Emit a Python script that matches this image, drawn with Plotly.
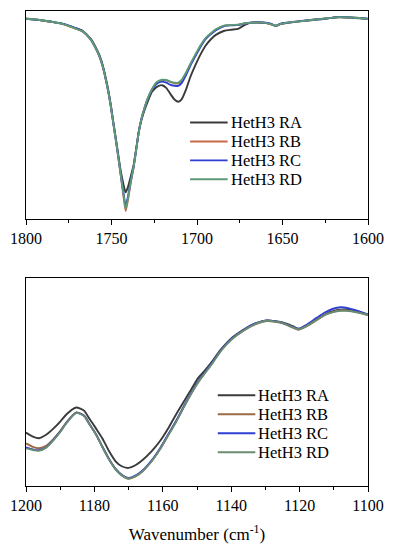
import plotly.graph_objects as go

# ---------------- data: top panel (1800-1600 cm-1) ----------------
wn_top = [1800, 1796, 1792, 1785, 1778, 1772, 1767, 1762, 1759.5, 1757,
          1755, 1753.3, 1751.8, 1750.4, 1749, 1747.5, 1746, 1744.6, 1743, 1741.7,
          1740.3, 1738.7, 1737, 1735.5, 1734, 1732.5, 1731, 1729, 1726.3, 1723.5,
          1720.5, 1718, 1715.5, 1713, 1711, 1709, 1706.5, 1704, 1701, 1698,
          1695, 1692, 1689, 1684, 1680, 1676, 1672, 1669, 1665, 1661,
          1657, 1654, 1651, 1647, 1640, 1632, 1625, 1617, 1610, 1605, 1600]
ra_top = [96.3, 96.0, 95.7, 94.8, 93.7, 92.0, 90.5, 86.5, 83.0, 78.6,
          73.5, 67.5, 61.5, 54.8, 47.0, 38.9, 30.5, 23.0, 16.5, 12.7,
          15.5, 20.5, 26.2, 34.0, 42.0, 47.5, 51.6, 56.0, 61.1, 63.5,
          64.3, 63.0, 60.0, 57.3, 56.3, 57.5, 62.0, 68.0, 73.8, 79.0,
          83.3, 86.3, 88.5, 90.5, 91.0, 91.4, 93.3, 94.3, 94.5, 94.3,
          93.8, 92.9, 93.8, 94.3, 95.0, 95.7, 96.3, 97.1, 96.8, 96.5, 96.2]
rb_top = [96.4, 96.1, 95.6, 94.7, 93.6, 91.8, 90.2, 86.0, 82.4, 78.0,
          72.8, 66.8, 60.8, 54.0, 46.2, 38.0, 29.5, 21.0, 11.0, 3.7,
          9.5, 17.5, 25.0, 33.5, 42.0, 48.0, 52.5, 57.5, 62.3, 65.5,
          66.7, 66.6, 65.8, 65.2, 65.1, 66.3, 69.8, 74.0, 78.6, 83.0,
          86.7, 89.0, 91.0, 92.9, 93.2, 93.3, 94.0, 94.3, 94.5, 94.4,
          93.6, 92.8, 93.7, 94.4, 95.0, 95.8, 96.4, 97.0, 96.9, 96.6, 96.2]
rc_top = [96.2, 95.9, 95.6, 94.8, 93.8, 92.1, 90.4, 86.2, 82.6, 78.2,
          73.0, 67.0, 61.0, 54.2, 46.4, 38.2, 29.8, 21.5, 12.5, 6.3,
          11.0, 18.5, 25.5, 33.8, 42.2, 48.0, 52.3, 57.2, 62.0, 65.0,
          66.0, 65.5, 64.5, 64.0, 64.0, 65.3, 69.0, 73.5, 78.2, 82.7,
          86.5, 88.8, 90.8, 92.8, 93.1, 93.3, 94.0, 94.4, 94.6, 94.5,
          93.9, 92.8, 93.9, 94.4, 95.1, 95.8, 96.3, 97.1, 96.9, 96.6, 96.3]
rd_top = [96.3, 96.0, 95.7, 94.8, 93.7, 91.9, 90.3, 86.1, 82.5, 78.1,
          72.9, 66.9, 60.9, 54.1, 46.3, 38.1, 29.6, 21.2, 11.8, 4.8,
          10.2, 18.0, 25.3, 33.6, 42.1, 48.1, 52.6, 57.6, 62.5, 65.8,
          66.9, 66.8, 66.0, 65.5, 65.5, 66.8, 70.3, 74.4, 79.0, 83.4,
          87.0, 89.2, 91.2, 93.0, 93.3, 93.4, 94.1, 94.3, 94.5, 94.4,
          93.7, 92.9, 93.8, 94.4, 95.0, 95.8, 96.4, 97.0, 96.9, 96.6, 96.2]

# ---------------- data: bottom panel (1200-1100 cm-1) ----------------
wn_bot = [1200, 1198, 1196.2, 1194, 1192, 1190, 1188, 1185.3, 1183, 1181.5,
          1179.5, 1177.7, 1175.7, 1173.8, 1172, 1170, 1168, 1166, 1163.3, 1160.7,
          1158.4, 1156, 1153.6, 1151.6, 1149.7, 1148, 1146, 1143, 1140, 1136.2,
          1133, 1129.5, 1127, 1124.7, 1122, 1120.3, 1118, 1115, 1112.5, 1110.2,
          1108, 1106.4, 1103, 1100]
ra_bot = [25.7, 23.8, 23.0, 24.8, 27.6, 31.0, 34.8, 37.8, 36.2, 32.5,
          27.6, 23.0, 16.7, 11.9, 9.5, 8.7, 10.0, 12.4, 16.7, 21.9,
          27.8, 34.8, 41.3, 46.7, 51.9, 55.0, 59.0, 65.7, 71.0, 75.4,
          78.1, 79.7, 79.3, 78.6, 76.9, 75.7, 77.1, 80.1, 82.6, 84.1,
          84.8, 84.9, 84.0, 82.5]
rb_bot = [20.5, 18.8, 18.2, 19.5, 22.6, 26.4, 31.0, 35.4, 33.8, 30.0,
          24.8, 19.0, 12.9, 8.1, 5.2, 3.5, 4.6, 7.0, 11.9, 18.1,
          24.6, 31.4, 38.9, 44.8, 50.0, 53.8, 58.1, 65.2, 70.5, 75.0,
          77.8, 79.4, 79.0, 78.1, 76.2, 75.2, 76.8, 79.8, 82.4, 83.8,
          84.5, 84.5, 83.6, 82.2]
rc_bot = [18.6, 17.6, 17.2, 18.8, 22.2, 26.2, 30.8, 35.3, 33.8, 30.0,
          24.8, 19.0, 12.9, 8.2, 5.4, 3.9, 5.0, 7.3, 12.2, 18.4,
          24.9, 31.6, 39.1, 45.0, 50.2, 54.0, 58.3, 65.4, 70.7, 75.3,
          78.2, 79.7, 79.2, 78.3, 76.6, 75.6, 77.5, 80.9, 83.6, 85.3,
          86.0, 85.8, 84.2, 82.4]
rd_bot = [18.1, 17.3, 17.0, 18.6, 22.0, 26.0, 30.6, 35.2, 33.6, 29.8,
          24.6, 18.8, 12.7, 8.0, 5.1, 3.6, 4.7, 7.0, 11.8, 18.0,
          24.4, 31.2, 38.7, 44.6, 49.8, 53.6, 57.9, 65.0, 70.4, 75.0,
          77.9, 79.5, 79.1, 78.3, 76.4, 75.4, 77.0, 80.0, 82.4, 83.7,
          84.3, 84.3, 83.5, 82.3]

names = ["HetH3 RA", "HetH3 RB", "HetH3 RC", "HetH3 RD"]
colors_top = ["#3a3a3a", "#c8694a", "#2f3fd0", "#5c9a78"]
colors_bot = ["#3a3a3a", "#9c6a44", "#2f3fd0", "#6a8c72"]

FONT = "Times New Roman, Liberation Serif, DejaVu Serif, serif"

fig = go.Figure()
for name, ys, c in zip(names, [ra_top, rb_top, rc_top, rd_top], colors_top):
    fig.add_trace(go.Scatter(x=wn_top, y=ys, mode="lines", name=name, showlegend=False,
                             line=dict(color=c, width=1.9, shape="spline", smoothing=0.6),
                             xaxis="x", yaxis="y"))
for name, ys, c in zip(names, [ra_bot, rb_bot, rc_bot, rd_bot], colors_bot):
    fig.add_trace(go.Scatter(x=wn_bot, y=ys, mode="lines", name=name, showlegend=False,
                             line=dict(color=c, width=1.9, shape="spline", smoothing=0.6),
                             xaxis="x2", yaxis="y2"))

# ---- legends drawn as line samples + labels (paper coordinates) ----
def add_legend(x0, x1, y_first, step, colors):
    for i, (name, c) in enumerate(zip(names, colors)):
        yy = y_first - i * step
        fig.add_shape(type="line", xref="paper", yref="paper",
                      x0=x0, x1=x1, y0=yy, y1=yy, line=dict(color=c, width=1.9))
        fig.add_annotation(xref="paper", yref="paper", x=x1 + 0.003, y=yy,
                           text=name, showarrow=False, xanchor="left", yanchor="middle",
                           font=dict(family=FONT, size=16.5, color="black"))

add_legend(0.4798, 0.5896, 0.7652, 0.0398, colors_top)
add_legend(0.5607, 0.6705, 0.1910, 0.0400, colors_bot)

axis_common = dict(showline=True, linecolor="black", linewidth=1.3, mirror=True,
                   showgrid=False, zeroline=False)

fig.update_layout(
    width=394, height=550,
    margin=dict(l=26, r=22, t=10, b=60),
    paper_bgcolor="white", plot_bgcolor="white",
    font=dict(family=FONT, size=16, color="black"),
    xaxis=dict(domain=[0, 1], anchor="y", range=[1800, 1600],
               tickmode="linear", tick0=1600, dtick=50,
               ticks="outside", ticklen=5, tickwidth=1.2, tickcolor="black",
               minor=dict(ticks="outside", ticklen=3, tickwidth=1.2, tickcolor="black", dtick=25),
               tickfont=dict(size=16, family=FONT), **axis_common),
    yaxis=dict(domain=[0.5625, 1], anchor="x", range=[0, 100],
               showticklabels=False, ticks="", **axis_common),
    xaxis2=dict(domain=[0, 1], anchor="y2", range=[1200, 1100],
                tickmode="linear", tick0=1100, dtick=20,
                ticks="outside", ticklen=5, tickwidth=1.2, tickcolor="black",
                minor=dict(ticks="outside", ticklen=3, tickwidth=1.2, tickcolor="black", dtick=10),
                tickfont=dict(size=16, family=FONT),
                title=dict(text="Wavenumber (cm<sup>-1</sup>)", font=dict(size=17, family=FONT),
                           standoff=14),
                **axis_common),
    yaxis2=dict(domain=[0, 0.4375], anchor="x2", range=[0, 100],
                showticklabels=False, ticks="", **axis_common),
)

fig.write_html("out.html", config={"displayModeBar": False},
               post_script="document.body.style.margin='0px';document.body.style.overflow='hidden';")
